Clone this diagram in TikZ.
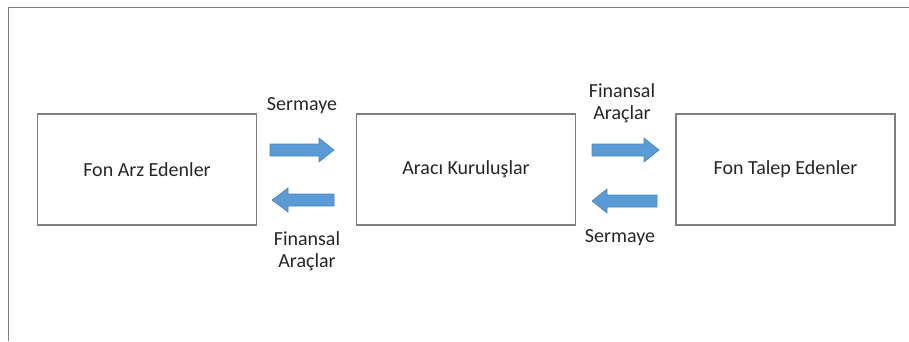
\documentclass[tikz,border=0pt]{standalone}
\usepackage{fontspec}
\setmainfont{Carlito}
\definecolor{framegray}{HTML}{7F7F7F}
\definecolor{arrowblue}{HTML}{5B9BD5}
\definecolor{arrowedge}{HTML}{4A86BE}
\definecolor{textgray}{HTML}{262626}
\tikzset{
  box/.style={draw=framegray, line width=1.4pt, minimum width=219pt, minimum height=111pt, inner sep=0pt, font=\fontsize{20}{22}\selectfont, text=textgray},
  lbl/.style={font=\fontsize{20}{21.5}\selectfont, text=textgray, align=center, inner sep=0pt},
  blockarrow/.style={fill=arrowblue, draw=arrowedge, line width=0.6pt, line join=miter}
}
\begin{document}
\begin{tikzpicture}[x=1pt,y=-1pt]
\useasboundingbox (0,0) rectangle (909,341);
% outer frame (top and left only)
\draw[framegray, line width=1.5pt] (8.5,341) -- (8.5,7.5) -- (909,7.5);
% boxes
\node[box] (fon) at (147,169.5) {Fon Arz Edenler};
\node[box] (araci) at (466,169.5) {Aracı Kuruluşlar};
\node[box] (talep) at (785.5,169.5) {Fon Talep Edenler};
% labels
\node[lbl] (l1) at (302,106) {Sermaye};
\node[lbl] (l2) at (307,251) {Finansal\\Araçlar};
\node[lbl] (l3) at (622,103) {Finansal\\Araçlar};
\node[lbl] (l4) at (620,238) {Sermaye};
% block arrows
\draw[blockarrow] (270,144) -- (319,144) -- (319,138) -- (334,150) -- (319,162) -- (319,156) -- (270,156) -- cycle;
\draw[blockarrow] (334,194) -- (288,194) -- (288,188) -- (272,200) -- (288,212) -- (288,206) -- (334,206) -- cycle;
\draw[blockarrow] (592,144) -- (644,144) -- (644,138) -- (659,150) -- (644,162) -- (644,156) -- (592,156) -- cycle;
\draw[blockarrow] (657,195) -- (607,195) -- (607,189) -- (592,201) -- (607,213) -- (607,207) -- (657,207) -- cycle;
\end{tikzpicture}
\end{document}
